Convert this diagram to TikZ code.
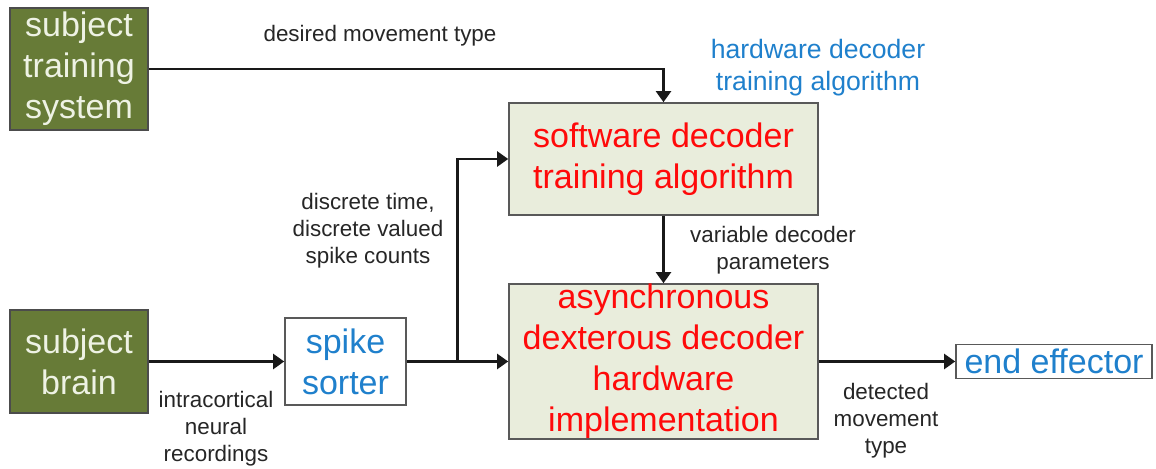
\documentclass[tikz,border=0pt]{standalone}
\usepackage{fontspec}
\setmainfont{Liberation Sans}
\usepackage{xcolor}
\usetikzlibrary{arrows.meta,positioning}
\definecolor{olivebox}{HTML}{677B37}
\definecolor{olivetext}{HTML}{EEF2E4}
\definecolor{sagefill}{HTML}{E9EDDC}
\definecolor{bluetxt}{HTML}{1F80CC}
\definecolor{redtxt}{HTML}{FF0A0A}
\definecolor{labeltxt}{HTML}{262626}
\newcommand{\bigfont}{\fontsize{17}{20.5}\selectfont}
\newcommand{\smallfont}{\fontsize{11.2}{13.6}\selectfont}
\tikzset{
  subjbox/.style={rectangle, draw=black!70, line width=0.8pt, fill=olivebox,
                  text=olivetext, align=center, inner sep=0pt,
                  minimum width=69pt, font=\bigfont},
  decbox/.style={rectangle, draw=black!65, line width=0.8pt, fill=sagefill,
                 text=redtxt, align=center, inner sep=0pt,
                 minimum width=154.5pt, font=\bigfont},
  plainbox/.style={rectangle, draw=black!65, line width=0.8pt, fill=white,
                   text=bluetxt, align=center, inner sep=0pt, font=\bigfont},
  lbl/.style={align=center, inner sep=0pt, text=labeltxt, font=\smallfont},
  arr/.style={-{Triangle[length=5.5pt, width=7.5pt]}, line width=1.1pt, draw=black!90},
  line/.style={line width=1.1pt, draw=black!90},
}
\begin{document}
\begin{tikzpicture}[x=0.5pt, y=-0.5pt]
  \useasboundingbox (0,0) rectangle (1156,469);
  % boxes
  \node[subjbox, minimum height=61pt]   (train)  at (79,69)      {subject\\training\\system};
  \node[subjbox, minimum height=51.5pt] (brain)  at (79,361.5)   {subject\\brain};
  \node[plainbox, minimum width=60.5pt, minimum height=43.5pt] (sorter) at (345.5,361.5) {spike\\sorter};
  \node[decbox, minimum height=56pt]    (soft)   at (663.5,159)  {software decoder\\training algorithm};
  \node[decbox, minimum height=77.5pt]  (hw)     at (663.5,361.5) {asynchronous\\dexterous decoder\\hardware\\implementation};
  \node[plainbox, minimum width=98pt, minimum height=17pt] (effector) at (1054,361.5) {end effector};
  % labels
  \node[lbl] (desired) at (380,36)  {desired movement type};
  \node[lbl, text=bluetxt, font=\fontsize{13.3}{16}\selectfont] (hwtrain) at (818,68) {hardware decoder\\training algorithm};
  \node[lbl] (counts)  at (368,231) {discrete time,\\discrete valued\\spike counts};
  \node[lbl] (params)  at (773,250) {variable decoder\\parameters};
  \node[lbl] (neural)  at (216,429) {intracortical\\neural\\recordings};
  \node[lbl] (detect)  at (886,421) {detected\\movement\\type};
  % connectors
  \path (sorter.east) -- (hw.west) coordinate[pos=0.5] (split);
  \draw[arr]  (train.east) -| (soft.north);
  \draw[arr]  (brain.east) -- (sorter.west);
  \draw[line] (sorter.east) -- (split);
  \draw[arr]  (split) -- (hw.west);
  \draw[arr]  (split) |- (soft.west);
  \draw[arr]  (soft.south) -- (hw.north);
  \draw[arr]  (hw.east) -- (effector.west);
\end{tikzpicture}
\end{document}
